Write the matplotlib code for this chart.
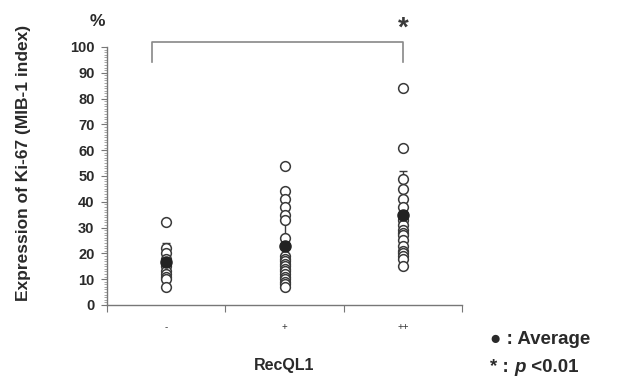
import matplotlib.pyplot as plt
import numpy as np
from matplotlib.ticker import MultipleLocator, FixedLocator

plt.rcParams['font.family'] = ['Liberation Sans', 'DejaVu Sans']

# values (MIB-1 index, %)
groups = ['-', '+', '++']
neg_vals = [32, 22, 20, 18, 15, 13, 12, 11, 10, 7]
pos_vals = [54, 44, 41, 38, 35, 33, 26, 19, 18, 17, 16, 15, 14, 13, 12, 11, 10, 9, 8, 7]
pp_vals = [84, 61, 49, 45, 41, 38, 33, 31, 29, 28, 27, 25, 23, 21, 20, 19, 18, 15]
means = [16.5, 22.7, 35.0]
sds = [7.5, 12.0, 17.0]

ink = '#3a3a3a'
txt = '#2a2a2a'

fig = plt.figure(figsize=(6.2, 3.88), dpi=100)
ax = fig.add_axes([0.1726, 0.214, 0.5726, 0.665])

for i, vals in enumerate([neg_vals, pos_vals, pp_vals]):
    xs = np.full(len(vals), i + 0.5)
    ax.errorbar(i + 0.5, means[i], yerr=sds[i], fmt='none', ecolor=ink,
                elinewidth=1.0, capsize=3, capthick=1.0, zorder=2)
    ax.plot(xs, vals, 'o', mfc='white', mec=ink, mew=1.1, ms=7, zorder=3)
    ax.plot(i + 0.5, means[i], 'o', color='#222222', ms=8, zorder=4)

ax.set_xlim(0, 3)
ax.set_ylim(0, 100)

ax.xaxis.set_major_locator(FixedLocator([0, 1, 2, 3]))
ax.xaxis.set_major_formatter(plt.NullFormatter())
ax.xaxis.set_minor_locator(FixedLocator([0.5, 1.5, 2.5]))
ax.set_xticklabels(groups, minor=True, fontsize=7, color=ink)
ax.tick_params(axis='x', which='major', direction='out', length=5, color='#777777')
ax.tick_params(axis='x', which='minor', length=0, pad=12)

ax.yaxis.set_major_locator(MultipleLocator(10))
ax.yaxis.set_minor_locator(MultipleLocator(1))
ax.tick_params(axis='y', which='major', direction='out', length=4, color='#777777',
               labelsize=10.5, labelcolor=txt, pad=5)
ax.tick_params(axis='y', which='minor', direction='out', length=2, color='#999999',
               width=0.6)
for lab in ax.get_yticklabels():
    lab.set_fontweight('bold')

for s in ['top', 'right']:
    ax.spines[s].set_visible(False)
for s in ['left', 'bottom']:
    ax.spines[s].set_color('#777777')
    ax.spines[s].set_linewidth(1.0)

ax.set_xlabel('RecQL1', fontsize=11.5, fontweight='bold', color=txt)
ax.xaxis.set_label_coords(0.5, -0.205)
ax.set_ylabel('Expression of Ki-67 (MIB-1 index)', fontsize=12.5, fontweight='bold',
              color=txt)
ax.yaxis.set_label_coords(-0.215, 0.55)

# significance bracket
ax.plot([0.38, 0.38, 2.5, 2.5], [94, 102, 102, 94], color='#888888', lw=1.2,
        clip_on=False)
ax.text(2.5, 102, '*', ha='center', va='bottom', fontsize=20, fontweight='bold',
        color=ink, clip_on=False)

fig.text(97 / 620, 1 - 22 / 388, '%', ha='center', va='center', fontsize=12.5,
         fontweight='bold', color=txt)
fig.text(490 / 620, 1 - 340 / 388, '\u25cf : Average', ha='left', va='center',
         fontsize=13.5, fontweight='bold', color=txt)

t1 = fig.text(490 / 620, 1 - 367 / 388, '* : ', ha='left', va='center',
              fontsize=13.5, fontweight='bold', color=txt)
t2 = ax.annotate('p', xy=(1, 0), xycoords=t1, ha='left', va='bottom',
                 fontsize=13.5, fontweight='bold', fontstyle='italic', color=txt)
ax.annotate(' <0.01', xy=(1, 0), xycoords=t2, ha='left', va='bottom',
            fontsize=13.5, fontweight='bold', color=txt)

fig.savefig('out.png', dpi=100)
